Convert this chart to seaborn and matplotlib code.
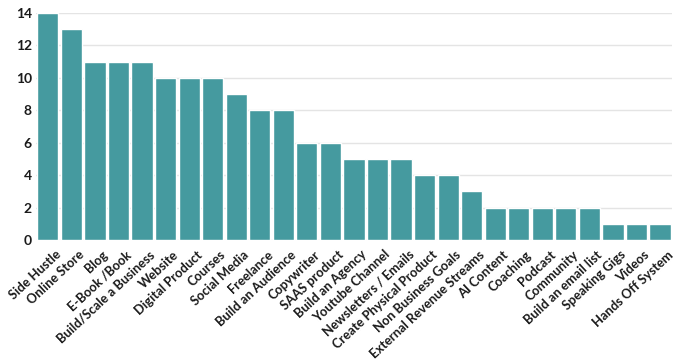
import matplotlib
matplotlib.use("Agg")
import pandas as pd
import seaborn as sns
import matplotlib.pyplot as plt
from matplotlib.transforms import ScaledTranslation

categories = ["Side Hustle", "Online Store", "Blog", "E-Book /Book", "Build/Scale a Business",
              "Website", "Digital Product", "Courses", "Social Media", "Freelance",
              "Build an Audience", "Copywriter", "SAAS product", "Build an Agency",
              "Youtube Channel", "Newsletters / Emails", "Create Physical Product",
              "Non Business Goals", "External Revenue Streams", "AI Content", "Coaching",
              "Podcast", "Community", "Build an email list", "Speaking Gigs", "Videos",
              "Hands Off System"]
counts = [14, 13, 11, 11, 11, 10, 10, 10, 9, 8, 8, 6, 6, 5, 5, 5, 4, 4, 3, 2, 2, 2, 2, 2, 1, 1, 1]

df = pd.DataFrame({"category": categories, "count": counts})

sns.set_style("white")
plt.rcParams["font.family"] = ["Lato", "DejaVu Sans"]

fig = plt.figure(figsize=(6.8, 3.61), dpi=100)
ax = fig.add_axes([0.053, 0.335, 0.935, 0.629])
sns.barplot(data=df, x="category", y="count", color="#459a9f", saturation=1,
            width=0.9, ax=ax, zorder=3)

ax.set_ylim(0, 14)
ax.set_xlim(-0.5, len(categories) - 0.5)
ax.set_yticks(range(0, 15, 2))
ax.grid(axis="y", color="#e4e4e4", linewidth=1, zorder=0)
ax.set_axisbelow(True)
for s in ax.spines.values():
    s.set_visible(False)
ax.set_xlabel("")
ax.set_ylabel("")
ax.tick_params(axis="both", length=0, pad=3)

shift = ScaledTranslation(5 / 72, -3 / 72, fig.dpi_scale_trans)
for lab in ax.get_xticklabels():
    lab.set_rotation(43)
    lab.set_ha("right")
    lab.set_va("top")
    lab.set_rotation_mode("anchor")
    lab.set_fontsize(9.3)
    lab.set_fontweight("bold")
    lab.set_color("#1a1a1a")
    lab.set_transform(lab.get_transform() + shift)
plt.setp(ax.get_yticklabels(), fontsize=10, fontweight="bold", color="#1a1a1a")

fig.savefig("out.png", dpi=100)
